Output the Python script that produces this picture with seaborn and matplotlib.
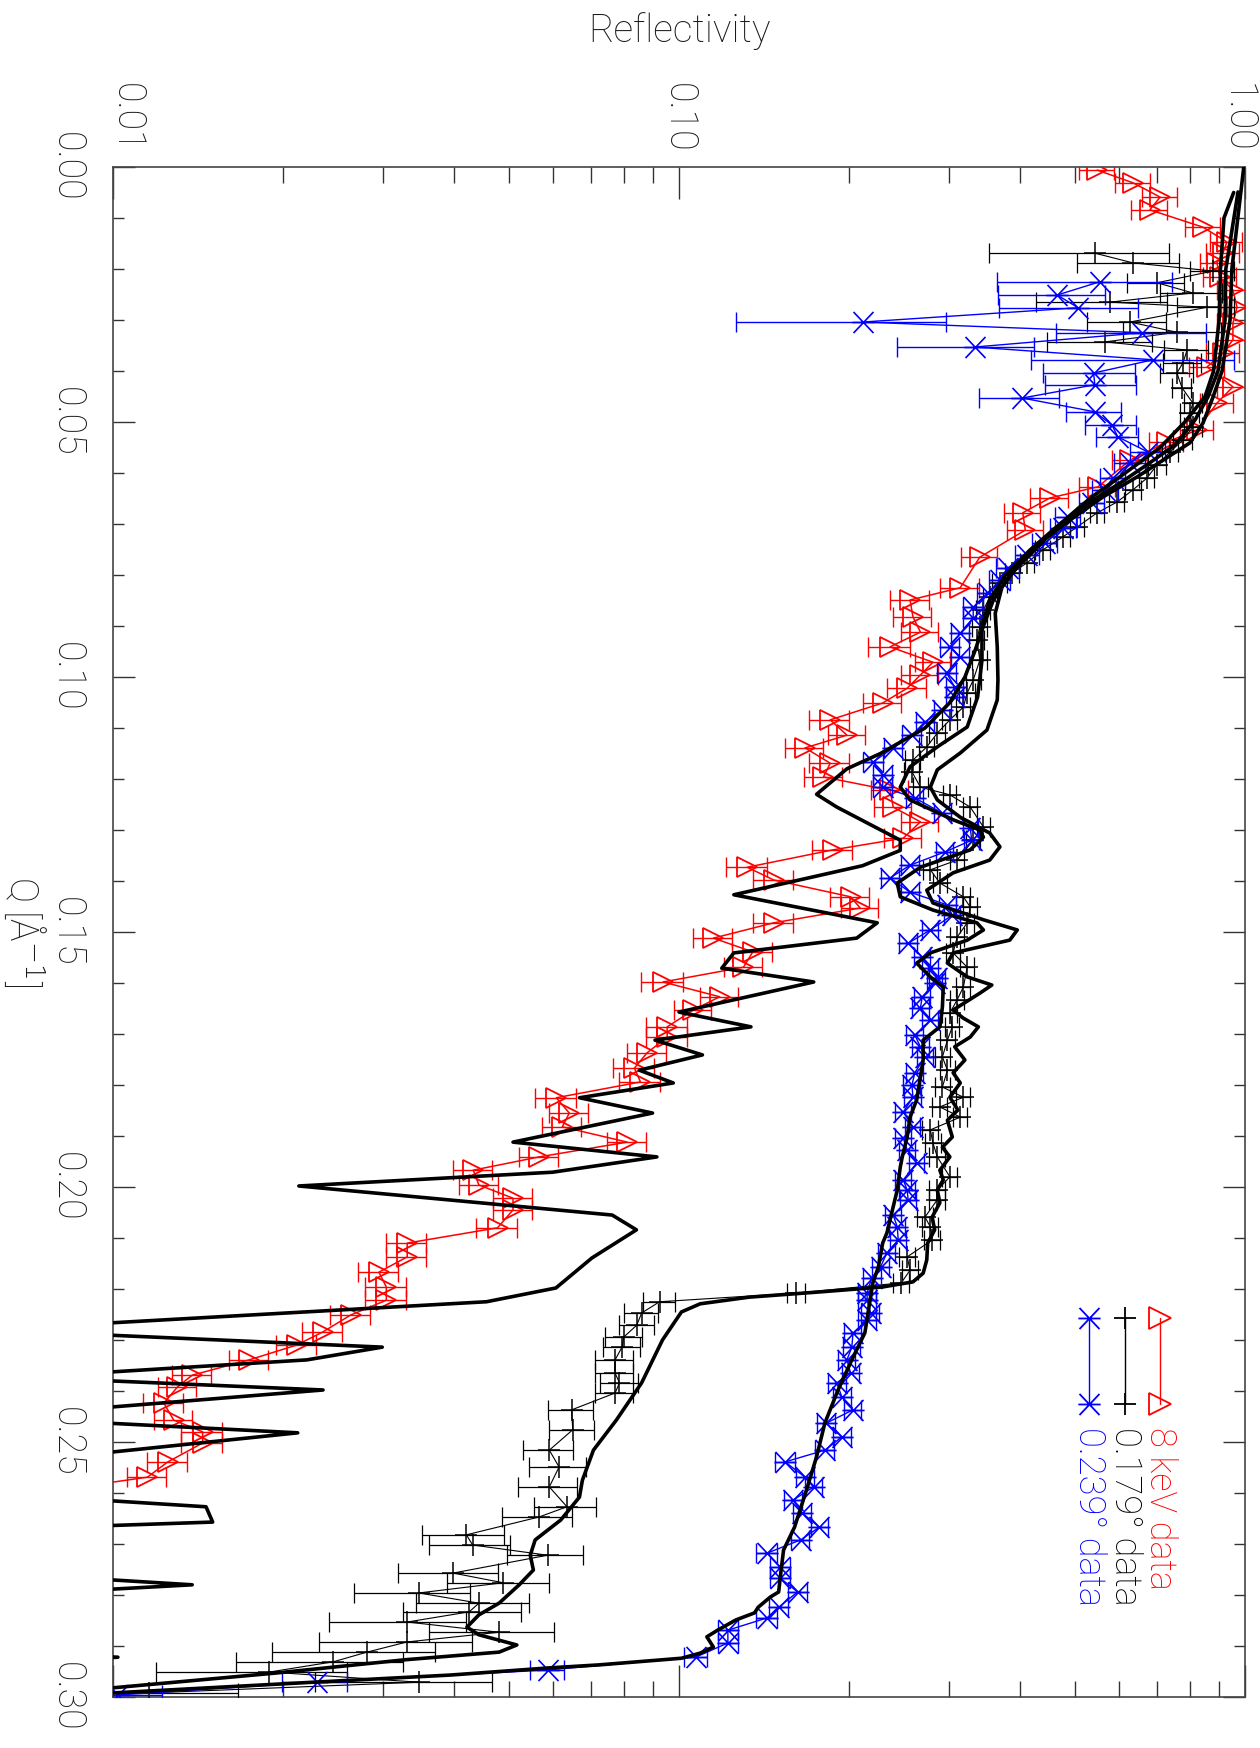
import numpy as np
import matplotlib
matplotlib.use("Agg")
import matplotlib.pyplot as plt
import matplotlib.transforms as mtransforms
import seaborn as sns
from matplotlib.path import Path
from matplotlib.ticker import MultipleLocator, LogLocator, NullFormatter

sns.set_theme(style="white")
FONT = ["Roboto", "DejaVu Sans"]
plt.rcParams["font.family"] = FONT
plt.rcParams["font.weight"] = "light"

# ---------------- data ----------------
# 8 keV data (red triangles)
q_red = [0.0006, 0.0031, 0.0059, 0.0084, 0.0118, 0.0147, 0.0169, 0.0188, 0.0216, 0.0241,
         0.0275, 0.0306, 0.0339, 0.0365, 0.0392, 0.0431, 0.0463, 0.0516, 0.0539, 0.0575,
         0.0627, 0.0649, 0.0678, 0.0712, 0.0765, 0.0825, 0.0849, 0.0882, 0.0912, 0.0941,
         0.0971, 0.0996, 0.1022, 0.1051, 0.1084, 0.1114, 0.1139, 0.1169, 0.1196, 0.1222,
         0.1255, 0.1284, 0.1316, 0.1339, 0.1373, 0.1398, 0.1431, 0.1453, 0.1482, 0.1512,
         0.1539, 0.1569, 0.1598, 0.1627, 0.1653, 0.1686, 0.1706, 0.1737, 0.1767, 0.1794,
         0.1825, 0.1855, 0.1882, 0.1912, 0.1941, 0.1967, 0.1996, 0.2022, 0.2045, 0.2080,
         0.2110, 0.2137, 0.2167, 0.2196, 0.2222, 0.2251, 0.2284, 0.2310, 0.2339, 0.2369,
         0.2392, 0.2424, 0.2457, 0.2480, 0.2502, 0.2539, 0.2569, 0.2594, 0.2630, 0.2680]
r_red = [0.548, 0.634, 0.708, 0.679, 0.843, 0.929, 0.914, 0.892, 0.903, 0.952,
         0.968, 0.952, 0.952, 0.914, 0.857, 0.952, 0.892, 0.823, 0.728, 0.626,
         0.550, 0.452, 0.405, 0.409, 0.340, 0.314, 0.256, 0.259, 0.267, 0.236,
         0.281, 0.267, 0.253, 0.229, 0.185, 0.198, 0.167, 0.185, 0.180, 0.236,
         0.239, 0.267, 0.249, 0.187, 0.132, 0.147, 0.201, 0.209, 0.147, 0.115,
         0.135, 0.130, 0.0937, 0.118, 0.106, 0.0953, 0.0953, 0.0878, 0.0834, 0.0855,
         0.0607, 0.064, 0.0622, 0.081, 0.0566, 0.0433, 0.0443, 0.0509, 0.0509, 0.0478,
         0.0331, 0.0331, 0.0295, 0.0304, 0.0304, 0.0263, 0.0235, 0.0211, 0.0174, 0.0138,
         0.0130, 0.0123, 0.0128, 0.0144, 0.0144, 0.0125, 0.0115, 0.008, 0.007, 0.007]
e_red = [0.04, 0.045, 0.05, 0.05, 0.06, 0.06, 0.06, 0.06, 0.06, 0.06,
         0.06, 0.06, 0.06, 0.06, 0.06, 0.06, 0.06, 0.055, 0.05, 0.045,
         0.04, 0.035, 0.03, 0.03, 0.025, 0.025, 0.02, 0.02, 0.02, 0.02,
         0.02, 0.02, 0.02, 0.018, 0.015, 0.015, 0.013, 0.015, 0.014, 0.018,
         0.018, 0.02, 0.019, 0.015, 0.011, 0.012, 0.016, 0.016, 0.012, 0.009,
         0.011, 0.01, 0.008, 0.009, 0.008, 0.008, 0.008, 0.007, 0.007, 0.007,
         0.005, 0.005, 0.005, 0.0065, 0.0045, 0.0035, 0.0035, 0.004, 0.004, 0.004,
         0.0027, 0.0027, 0.0024, 0.0025, 0.0025, 0.0021, 0.0019, 0.0017, 0.0014, 0.0011,
         0.001, 0.001, 0.001, 0.0012, 0.0012, 0.001, 0.0009, 0.0007, 0.0006, 0.0006]

# 0.179 deg data (black plus)
q_blk = [0.0169, 0.0188, 0.0204, 0.0227, 0.0247, 0.0265, 0.0275, 0.0304, 0.0324, 0.0343,
         0.0359, 0.0384, 0.0404, 0.0433, 0.0463, 0.0482, 0.0510, 0.0535, 0.0559, 0.0584,
         0.0610, 0.0633, 0.0657, 0.0678, 0.0706, 0.0725, 0.0751, 0.0776, 0.0796, 0.0816,
         0.0843, 0.0869, 0.0902, 0.0927, 0.0967, 0.1006, 0.1031, 0.1059, 0.1084, 0.1110,
         0.1137, 0.1163, 0.1186, 0.1216, 0.1231, 0.1255, 0.1294, 0.1320, 0.1359, 0.1378,
         0.1404, 0.1431, 0.1451, 0.1482, 0.1510, 0.1541, 0.1569, 0.1608, 0.1633, 0.1659,
         0.1686, 0.1712, 0.1745, 0.1771, 0.1804, 0.1824, 0.1843, 0.1863, 0.1888, 0.1914,
         0.1941, 0.1980, 0.2006, 0.2025, 0.2059, 0.2078, 0.2104, 0.2137, 0.2163, 0.2188,
         0.2208, 0.2225, 0.2247, 0.2271, 0.2294, 0.2314, 0.2339, 0.2365, 0.2384, 0.2404,
         0.2437, 0.2476, 0.2516, 0.2549, 0.2588, 0.2627, 0.2647, 0.2682, 0.2702, 0.2722,
         0.2757, 0.2776, 0.2796, 0.2816, 0.2833, 0.2853, 0.2873, 0.2892, 0.2912, 0.2931,
         0.2951, 0.2971, 0.2992]
r_blk = [0.543, 0.634, 0.878, 0.699, 0.809, 0.577, 0.857, 0.626, 0.758, 0.566,
         0.790, 0.777, 0.758, 0.774, 0.809, 0.799, 0.809, 0.777, 0.737, 0.699,
         0.671, 0.634, 0.594, 0.548, 0.505, 0.477, 0.439, 0.412, 0.388, 0.369,
         0.354, 0.345, 0.340, 0.336, 0.340, 0.331, 0.323, 0.318, 0.301, 0.286,
         0.274, 0.259, 0.258, 0.267, 0.301, 0.327, 0.345, 0.331, 0.310, 0.278,
         0.289, 0.318, 0.327, 0.323, 0.310, 0.305, 0.323, 0.318, 0.310, 0.301,
         0.304, 0.298, 0.292, 0.298, 0.292, 0.318, 0.289, 0.314, 0.278, 0.281,
         0.286, 0.301, 0.286, 0.286, 0.272, 0.278, 0.280, 0.253, 0.256, 0.247,
         0.161, 0.0924, 0.0859, 0.0842, 0.0799, 0.0793, 0.0771, 0.0771, 0.0785, 0.0771,
         0.0646, 0.0649, 0.0590, 0.0614, 0.0590, 0.0634, 0.0566, 0.0421, 0.0432, 0.0586,
         0.0399, 0.0489, 0.0347, 0.0443, 0.0426, 0.0331, 0.0481, 0.0331, 0.0281, 0.0245,
         0.0189, 0.0347, 0.0116]
e_blk = [0.19, 0.13, 0.08, 0.08, 0.10, 0.15, 0.10, 0.10, 0.15, 0.12,
         0.07, 0.06, 0.05, 0.03, 0.03, 0.03, 0.03, 0.03, 0.025, 0.025,
         0.02, 0.02, 0.018, 0.016, 0.015, 0.014, 0.013, 0.012, 0.011, 0.011,
         0.01, 0.01, 0.01, 0.01, 0.01, 0.01, 0.01, 0.009, 0.009, 0.009,
         0.008, 0.008, 0.008, 0.008, 0.008, 0.009, 0.009, 0.009, 0.009, 0.008,
         0.008, 0.009, 0.009, 0.009, 0.009, 0.009, 0.009, 0.009, 0.009, 0.009,
         0.009, 0.009, 0.009, 0.009, 0.009, 0.009, 0.009, 0.009, 0.009, 0.009,
         0.009, 0.009, 0.009, 0.009, 0.009, 0.009, 0.009, 0.008, 0.008, 0.008,
         0.006, 0.006, 0.006, 0.006, 0.006, 0.006, 0.006, 0.006, 0.006, 0.006,
         0.006, 0.006, 0.006, 0.007, 0.007, 0.008, 0.008, 0.007, 0.007, 0.009,
         0.008, 0.01, 0.008, 0.01, 0.01, 0.009, 0.012, 0.01, 0.009, 0.008,
         0.007, 0.012, 0.005]

# 0.239 deg data (blue asterisks)
q_blu = [0.0225, 0.0251, 0.0276, 0.0304, 0.0325, 0.0353, 0.0378, 0.0404, 0.0427, 0.0453,
         0.0480, 0.0506, 0.0529, 0.0559, 0.0580, 0.0610, 0.0633, 0.0659, 0.0686, 0.0708,
         0.0737, 0.0761, 0.0786, 0.0810, 0.0835, 0.0863, 0.0884, 0.0914, 0.0941, 0.0961,
         0.0992, 0.1020, 0.1039, 0.1065, 0.1088, 0.1114, 0.1139, 0.1167, 0.1192, 0.1216,
         0.1237, 0.1267, 0.1296, 0.1320, 0.1343, 0.1369, 0.1394, 0.1422, 0.1447, 0.1467,
         0.1496, 0.1522, 0.1549, 0.1571, 0.1590, 0.1600, 0.1627, 0.1649, 0.1673, 0.1702,
         0.1725, 0.1745, 0.1776, 0.1800, 0.1824, 0.1853, 0.1882, 0.1904, 0.1927, 0.1953,
         0.1986, 0.2006, 0.2025, 0.2055, 0.2078, 0.2104, 0.2129, 0.2157, 0.2178, 0.2208,
         0.2222, 0.2247, 0.2261, 0.2286, 0.2314, 0.2339, 0.2365, 0.2384, 0.2412, 0.2437,
         0.2463, 0.2490, 0.2516, 0.2539, 0.2569, 0.2588, 0.2614, 0.2639, 0.2667, 0.2692,
         0.2718, 0.2745, 0.2767, 0.2794, 0.2824, 0.2845, 0.2869, 0.2894, 0.2922, 0.2947,
         0.2971, 0.2996]
r_blu = [0.554, 0.466, 0.507, 0.211, 0.658, 0.333, 0.688, 0.540, 0.543, 0.404,
         0.543, 0.582, 0.596, 0.674, 0.626, 0.584, 0.566, 0.536, 0.487, 0.477,
         0.443, 0.412, 0.381, 0.369, 0.351, 0.331, 0.331, 0.314, 0.301, 0.314,
         0.297, 0.307, 0.307, 0.292, 0.272, 0.258, 0.239, 0.220, 0.229, 0.229,
         0.261, 0.292, 0.327, 0.329, 0.295, 0.256, 0.236, 0.256, 0.298, 0.304,
         0.278, 0.254, 0.269, 0.278, 0.286, 0.283, 0.269, 0.267, 0.278, 0.261,
         0.267, 0.272, 0.261, 0.258, 0.259, 0.249, 0.259, 0.249, 0.253, 0.263,
         0.249, 0.253, 0.254, 0.239, 0.243, 0.244, 0.233, 0.227, 0.219, 0.215,
         0.215, 0.218, 0.215, 0.203, 0.202, 0.198, 0.201, 0.190, 0.194, 0.203,
         0.182, 0.194, 0.181, 0.154, 0.167, 0.173, 0.159, 0.165, 0.177, 0.164,
         0.143, 0.151, 0.151, 0.162, 0.150, 0.143, 0.122, 0.122, 0.107, 0.0586,
         0.0229, 0.0102]
e_blu = [0.19, 0.10, 0.14, 0.085, 0.195, 0.09, 0.27, 0.10, 0.10, 0.065,
         0.06, 0.06, 0.05, 0.047, 0.04, 0.03, 0.03, 0.028, 0.025, 0.025,
         0.022, 0.02, 0.018, 0.016, 0.015, 0.013, 0.013, 0.012, 0.012, 0.012,
         0.011, 0.011, 0.011, 0.01, 0.01, 0.01, 0.009, 0.009, 0.009, 0.009,
         0.009, 0.01, 0.01, 0.01, 0.01, 0.009, 0.009, 0.009, 0.01, 0.01,
         0.009, 0.009, 0.009, 0.009, 0.009, 0.009, 0.009, 0.009, 0.009, 0.009,
         0.009, 0.009, 0.009, 0.009, 0.009, 0.008, 0.008, 0.008, 0.008, 0.008,
         0.008, 0.008, 0.008, 0.008, 0.008, 0.008, 0.008, 0.008, 0.008, 0.008,
         0.008, 0.008, 0.008, 0.007, 0.007, 0.007, 0.007, 0.007, 0.007, 0.007,
         0.007, 0.007, 0.007, 0.006, 0.006, 0.006, 0.006, 0.006, 0.006, 0.006,
         0.006, 0.006, 0.006, 0.006, 0.006, 0.006, 0.005, 0.005, 0.005, 0.004,
         0.003, 0.002]

# model curves (thick black)
q_mod_red = [0.005, 0.010, 0.020, 0.030, 0.040, 0.045, 0.050, 0.055, 0.060, 0.065,
             0.070, 0.075, 0.080, 0.085, 0.090, 0.095, 0.100, 0.105, 0.110, 0.115,
             0.118, 0.123, 0.1255, 0.132, 0.134, 0.137, 0.1427, 0.1482, 0.1512, 0.1541,
             0.1571, 0.1598, 0.1657, 0.1686, 0.1712, 0.1741, 0.1771, 0.1796, 0.1825, 0.1855,
             0.1912, 0.1941, 0.1971, 0.1998, 0.2055, 0.2084, 0.2139, 0.2198, 0.2225, 0.2280,
             0.2314, 0.2339, 0.2373, 0.2398, 0.2451, 0.2482, 0.2545, 0.2600, 0.2627, 0.2657,
             0.2675, 0.2735, 0.2780, 0.2820, 0.2900, 0.2922, 0.2945, 0.3000]
r_mod_red = [0.955, 0.918, 0.905, 0.900, 0.880, 0.850, 0.783, 0.708, 0.614, 0.532,
             0.471, 0.426, 0.384, 0.359, 0.345, 0.333, 0.320, 0.301, 0.272, 0.227,
             0.198, 0.175, 0.190, 0.246, 0.246, 0.211, 0.125, 0.224, 0.206, 0.125,
             0.119, 0.173, 0.100, 0.134, 0.0907, 0.110, 0.0851, 0.0977, 0.0667, 0.0898,
             0.0509, 0.0914, 0.0598, 0.0213, 0.0762, 0.0841, 0.0702, 0.0606, 0.0457, 0.006,
             0.0299, 0.0220, 0.007, 0.0235, 0.006, 0.0212, 0.006, 0.006, 0.0146, 0.0150,
             0.005, 0.003, 0.0138, 0.003, 0.004, 0.0102, 0.004, 0.003]

q_mod_blk = [0.0000, 0.0200, 0.0300, 0.0400, 0.0451, 0.0502, 0.0541, 0.0575, 0.0608, 0.0647,
             0.0692, 0.0737, 0.0784, 0.0824, 0.0875, 0.0941, 0.1006, 0.1045, 0.1104, 0.1149,
             0.1182, 0.1216, 0.1241, 0.1275, 0.1306, 0.1333, 0.1359, 0.1384, 0.1418, 0.1443,
             0.1476, 0.1496, 0.1516, 0.1541, 0.1561, 0.1588, 0.1604, 0.1620, 0.1653, 0.1669,
             0.1686, 0.1706, 0.1725, 0.1751, 0.1776, 0.1796, 0.1824, 0.1849, 0.1869, 0.1902,
             0.1922, 0.1941, 0.1967, 0.1986, 0.2006, 0.2031, 0.2059, 0.2084, 0.2110, 0.2143,
             0.2169, 0.2186, 0.2196, 0.2206, 0.2216, 0.2229, 0.2245, 0.2300, 0.2384, 0.2457,
             0.2516, 0.2575, 0.2608, 0.2653, 0.2692, 0.2722, 0.2751, 0.2780, 0.2816, 0.2839,
             0.2863, 0.2878, 0.2898, 0.2912, 0.2927, 0.2953, 0.2982, 0.3000]
r_mod_blk = [0.995, 0.948, 0.941, 0.911, 0.878, 0.843, 0.799, 0.716, 0.644, 0.561,
             0.491, 0.434, 0.396, 0.372, 0.362, 0.365, 0.366, 0.365, 0.350, 0.314,
             0.286, 0.278, 0.286, 0.314, 0.354, 0.369, 0.354, 0.305, 0.274, 0.281,
             0.345, 0.396, 0.384, 0.305, 0.298, 0.323, 0.357, 0.340, 0.305, 0.318,
             0.338, 0.327, 0.307, 0.320, 0.305, 0.314, 0.301, 0.311, 0.298, 0.304,
             0.292, 0.301, 0.289, 0.293, 0.286, 0.289, 0.280, 0.283, 0.275, 0.274,
             0.270, 0.259, 0.229, 0.176, 0.133, 0.109, 0.101, 0.0935, 0.0859, 0.0775,
             0.0706, 0.0675, 0.0667, 0.0618, 0.0557, 0.0546, 0.0553, 0.0522, 0.0481, 0.0443,
             0.0422, 0.0443, 0.0517, 0.0481, 0.0328, 0.0194, 0.0100, 0.0075]

q_mod_blu = [0.0049, 0.0200, 0.0300, 0.0400, 0.0451, 0.0496, 0.0545, 0.0580, 0.0620, 0.0663,
             0.0708, 0.0751, 0.0800, 0.0849, 0.0898, 0.0967, 0.1039, 0.1098, 0.1137, 0.1176,
             0.1216, 0.1241, 0.1280, 0.1300, 0.1314, 0.1339, 0.1373, 0.1404, 0.1431, 0.1457,
             0.1482, 0.1496, 0.1516, 0.1541, 0.1561, 0.1588, 0.1608, 0.1647, 0.1686, 0.1712,
             0.1751, 0.1784, 0.1829, 0.1863, 0.1902, 0.1941, 0.1961, 0.2006, 0.2039, 0.2090,
             0.2110, 0.2157, 0.2188, 0.2286, 0.2339, 0.2398, 0.2463, 0.2529, 0.2594, 0.2667,
             0.2712, 0.2765, 0.2794, 0.2804, 0.2824, 0.2835, 0.2849, 0.2869, 0.2882, 0.2902,
             0.2914, 0.2924, 0.2937, 0.2943, 0.2957, 0.2971, 0.2992, 0.3000]
r_mod_blu = [0.972, 0.925, 0.922, 0.896, 0.860, 0.816, 0.752, 0.679, 0.601, 0.522,
             0.462, 0.417, 0.377, 0.354, 0.343, 0.343, 0.337, 0.323, 0.286, 0.256,
             0.246, 0.256, 0.305, 0.340, 0.345, 0.327, 0.267, 0.243, 0.246, 0.281,
             0.336, 0.345, 0.323, 0.278, 0.263, 0.278, 0.293, 0.292, 0.289, 0.270,
             0.270, 0.267, 0.263, 0.256, 0.253, 0.248, 0.246, 0.243, 0.239, 0.233,
             0.229, 0.225, 0.220, 0.213, 0.202, 0.191, 0.181, 0.175, 0.168, 0.160,
             0.153, 0.151, 0.150, 0.145, 0.138, 0.136, 0.126, 0.117, 0.112, 0.115,
             0.109, 0.101, 0.0723, 0.0588, 0.0394, 0.0226, 0.0100, 0.0080]

x_ticks = [0.01, 0.1, 1.0]
x_tick_labels = ["0.01", "0.10", "1.00"]
q_ticks = [0.00, 0.05, 0.10, 0.15, 0.20, 0.25, 0.30]
q_tick_labels = ["0.00", "0.05", "0.10", "0.15", "0.20", "0.25", "0.30"]
legend_labels = ["8 keV data", "0.179\u00b0 data", "0.239\u00b0 data"]

# ---------------- figure ----------------
W, H = 1260, 1748
fig = plt.figure(figsize=(W / 100, H / 100), dpi=100)
fig.patch.set_facecolor("white")
ax = fig.add_axes([113 / W, 1 - 1697 / H, 1132 / W, 1530 / H])
ax.set_facecolor("white")
ax.set_xscale("log")

TXT = "#1a1a1a"

# asterisk marker (IDL psym=2, rotated)
ast = Path([(-1, 0), (1, 0), (-0.9, -0.95), (0.9, 0.95), (-0.9, 0.95), (0.9, -0.95)],
           [Path.MOVETO, Path.LINETO] * 3)

# data with error bars
ax.errorbar(r_red, q_red, xerr=e_red, fmt="none", ecolor="red", elinewidth=1.0,
            capsize=7, capthick=1.0, zorder=3)
ax.plot(r_red, q_red, color="red", lw=1.1, marker=">", ms=14, mfc="none",
        mec="red", mew=1.3, zorder=3)

ax.errorbar(r_blk, q_blk, xerr=e_blk, fmt="none", ecolor="black", elinewidth=0.9,
            capsize=7, capthick=0.9, zorder=3)
ax.plot(r_blk, q_blk, color="black", lw=0.8, marker="+", ms=16, mew=1.1, zorder=3)

ax.errorbar(r_blu, q_blu, xerr=e_blu, fmt="none", ecolor="blue", elinewidth=1.0,
            capsize=7, capthick=1.0, zorder=3)
ax.plot(r_blu, q_blu, color="blue", lw=1.0, marker=ast, ms=16, mew=1.2,
        mec="blue", zorder=3)

# model curves
for rm, qm in [(r_mod_red, q_mod_red), (r_mod_blk, q_mod_blk), (r_mod_blu, q_mod_blu)]:
    sns.lineplot(x=rm, y=qm, sort=False, estimator=None, color="black", lw=2.6,
                 ax=ax, zorder=4)

ax.set_xlim(0.01, 1.0)
ax.set_ylim(0.30, 0.0)
ax.set_xlabel("")
ax.set_ylabel("")

# ticks
ax.set_xticks(x_ticks)
ax.set_xticklabels(x_tick_labels)
ax.xaxis.set_minor_locator(LogLocator(base=10, subs=np.arange(2, 10)))
ax.xaxis.set_minor_formatter(NullFormatter())
ax.tick_params(axis="x", which="major", direction="in", length=23, width=1.0,
               top=True, bottom=True, labeltop=True, labelbottom=False,
               labelrotation=-90, pad=10, labelsize=27, color="#333333",
               labelcolor=TXT)
ax.tick_params(axis="x", which="minor", direction="in", length=11.5, width=1.0,
               top=True, bottom=True, color="#333333")
ax.set_yticks(q_ticks)
ax.set_yticklabels(q_tick_labels)
ax.yaxis.set_minor_locator(MultipleLocator(0.01))
ax.tick_params(axis="y", which="major", direction="in", length=16, width=1.0,
               left=True, right=True, labelleft=True, labelright=False,
               labelrotation=-90, pad=20, labelsize=27, color="#333333",
               labelcolor=TXT)
ax.tick_params(axis="y", which="minor", direction="in", length=8, width=1.0,
               left=True, right=True, color="#333333")
for lab in ax.get_yticklabels():
    lab.set_va("center")
# shift reflectivity labels as in the reference (pixels -> points)
x_label_shift_px = [14, 0, -8]
for lab, dx in zip(ax.xaxis.get_majorticklabels(), x_label_shift_px):
    lab.set_transform(lab.get_transform() +
                      mtransforms.ScaledTranslation(dx / 100, 0, fig.dpi_scale_trans))
for sp in ax.spines.values():
    sp.set_color("#444444")
    sp.set_linewidth(1.2)

# axis titles
fig.text(679 / W, 1 - 31 / H, "Reflectivity", ha="center", va="center",
         fontsize=28, color=TXT)
fig.text(25 / W, 1 - 932 / H, "Q [\u00c5$^{-1}$]", rotation=-90, ha="center",
         va="center", fontsize=27, color=TXT)

# legend (rotated, drawn in axes coordinates)
leg_x = [0.9249, 0.8940, 0.8622]
leg_col = ["red", "black", "blue"]
leg_mark = [">", "+", ast]
for xl, col, mk, lab in zip(leg_x, leg_col, leg_mark, legend_labels):
    ax.plot([xl, xl], [0.2477, 0.1915], transform=ax.transAxes, color=col, lw=1.0,
            marker=mk, ms=16, mfc="none", mec=col, mew=1.3, clip_on=False, zorder=5)
    ax.text(xl, 0.1765, lab, transform=ax.transAxes, rotation=-90, ha="center",
            va="top", fontsize=26, color=col)

fig.savefig("out.png", dpi=100, facecolor="white")
